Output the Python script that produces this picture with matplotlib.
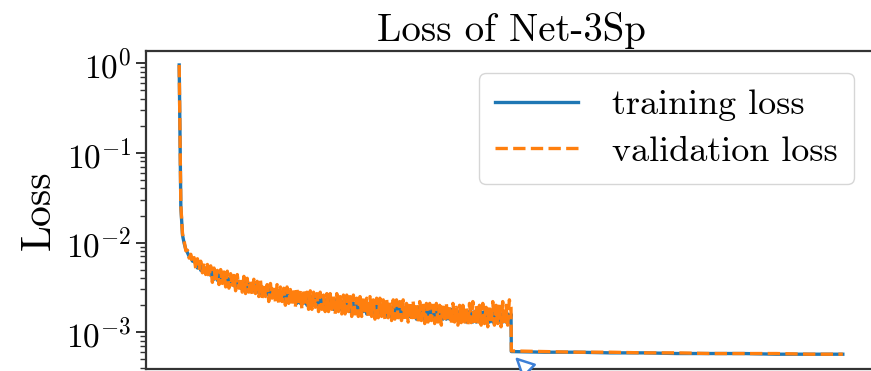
import matplotlib
matplotlib.use("Agg")
import matplotlib.pyplot as plt

plt.rcParams["font.family"] = ["cmr10", "DejaVu Serif"]
plt.rcParams["mathtext.fontset"] = "cm"
plt.rcParams["axes.unicode_minus"] = False
plt.rcParams["axes.formatter.use_mathtext"] = True

# Phase 1: epochs 0..1000, logged every 5 epochs
phase1_epochs = list(range(0, 1001, 5))
val_phase1 = [
    0.95, 0.026, 0.0125, 0.0104, 0.0081, 0.0082, 0.0067, 0.0074, 0.0060, 0.0068,
    0.0051, 0.0066, 0.0049, 0.0062, 0.0046, 0.0060, 0.0044, 0.0057, 0.0041, 0.0055,
    0.0036, 0.0052, 0.0037, 0.0049, 0.0034, 0.0050, 0.0035, 0.0047, 0.0032, 0.0048,
    0.0031, 0.0045, 0.0032, 0.0043, 0.0029, 0.0044, 0.0031, 0.0041, 0.0028, 0.0042,
    0.0027, 0.0040, 0.0028, 0.0038, 0.0026, 0.0039, 0.0027, 0.0037, 0.0025, 0.0038,
    0.0024, 0.0035, 0.0025, 0.0034, 0.0022, 0.0035, 0.0024, 0.0033, 0.0022, 0.0034,
    0.0021, 0.0032, 0.0022, 0.0031, 0.0020, 0.0032, 0.0021, 0.0030, 0.0020, 0.0031,
    0.0019, 0.0030, 0.0020, 0.0029, 0.0018, 0.0030, 0.0020, 0.0028, 0.0018, 0.0029,
    0.0018, 0.0028, 0.0019, 0.0027, 0.0017, 0.0028, 0.0018, 0.0026, 0.0017, 0.0027,
    0.0017, 0.0027, 0.0018, 0.0026, 0.0016, 0.0027, 0.0017, 0.0025, 0.0016, 0.0026,
    0.0016, 0.0026, 0.0017, 0.0025, 0.0015, 0.0026, 0.0016, 0.0024, 0.0015, 0.0025,
    0.0015, 0.0025, 0.0016, 0.0024, 0.00145, 0.0025, 0.0015, 0.0023, 0.0014, 0.0024,
    0.00145, 0.0024, 0.0015, 0.0023, 0.0014, 0.0024, 0.00145, 0.0022, 0.00135, 0.0023,
    0.0014, 0.0023, 0.00145, 0.0022, 0.00135, 0.0023, 0.0014, 0.0021, 0.0013, 0.0022,
    0.00135, 0.0022, 0.0014, 0.0021, 0.0013, 0.0022, 0.00135, 0.0020, 0.00125, 0.0021,
    0.0013, 0.0021, 0.00135, 0.0020, 0.00125, 0.0021, 0.0013, 0.0020, 0.0012, 0.0021,
    0.0013, 0.0021, 0.00135, 0.0020, 0.00122, 0.0021, 0.0013, 0.0019, 0.0012, 0.0020,
    0.00128, 0.0020, 0.0013, 0.0019, 0.0012, 0.0021, 0.00128, 0.0022, 0.0012, 0.0020,
    0.00125, 0.0020, 0.0012, 0.0021, 0.00125, 0.0019, 0.00115, 0.0020, 0.00125, 0.0022,
    0.0012, 0.0020, 0.00125, 0.0021, 0.00115, 0.0022, 0.0012, 0.0020, 0.0012, 0.0023,
    0.0019,
]
train_phase1 = [
    0.95, 0.025, 0.0121, 0.0098, 0.0084, 0.0077, 0.0070, 0.0068, 0.0062, 0.0062,
    0.0058, 0.0052, 0.0058, 0.0049, 0.0054, 0.0047, 0.0052, 0.0045, 0.0050, 0.0043,
    0.0047, 0.0039, 0.0045, 0.0038, 0.0044, 0.0037, 0.0043, 0.0036, 0.0041, 0.0035,
    0.0040, 0.0034, 0.0039, 0.0033, 0.0038, 0.0032, 0.0037, 0.0031, 0.0036, 0.0030,
    0.0036, 0.0030, 0.0035, 0.0029, 0.0034, 0.0029, 0.0033, 0.0028, 0.0032, 0.0027,
    0.0032, 0.0026, 0.0031, 0.0026, 0.0030, 0.0025, 0.0030, 0.0025, 0.0029, 0.0024,
    0.0029, 0.0023, 0.0028, 0.0023, 0.0028, 0.0023, 0.0027, 0.0022, 0.0027, 0.0022,
    0.0027, 0.0021, 0.0026, 0.0021, 0.0026, 0.0021, 0.0025, 0.0020, 0.0025, 0.0020,
    0.0025, 0.0020, 0.0025, 0.0020, 0.0024, 0.0019, 0.0024, 0.0019, 0.0023, 0.0019,
    0.0024, 0.0019, 0.0023, 0.0018, 0.0023, 0.0018, 0.0022, 0.0018, 0.0022, 0.0017,
    0.0023, 0.0018, 0.0022, 0.0017, 0.0022, 0.0017, 0.0021, 0.0017, 0.0021, 0.0016,
    0.0022, 0.0017, 0.0021, 0.0016, 0.0021, 0.0016, 0.0020, 0.0016, 0.0020, 0.0016,
    0.0021, 0.0016, 0.0020, 0.0016, 0.0020, 0.0015, 0.0020, 0.0015, 0.0019, 0.0015,
    0.0020, 0.0016, 0.0019, 0.0015, 0.0019, 0.0015, 0.0019, 0.0015, 0.0019, 0.0015,
    0.0019, 0.0015, 0.0019, 0.0014, 0.0019, 0.0015, 0.0018, 0.0014, 0.0018, 0.0014,
    0.0019, 0.0014, 0.0018, 0.0014, 0.0018, 0.0014, 0.0018, 0.0014, 0.0018, 0.0014,
    0.0018, 0.0014, 0.0018, 0.0014, 0.0018, 0.0014, 0.0017, 0.0014, 0.0017, 0.0013,
    0.0018, 0.0014, 0.0017, 0.0013, 0.0017, 0.0014, 0.0017, 0.0013, 0.0017, 0.0013,
    0.0017, 0.0013, 0.0017, 0.0013, 0.0017, 0.0013, 0.0017, 0.0013, 0.0017, 0.0013,
    0.0017, 0.0013, 0.0017, 0.0013, 0.0016, 0.0013, 0.0017, 0.0013, 0.0016, 0.0013,
    0.0016,
]

# Phase 2: after the learning-rate drop
phase2_epochs = [1001, 1100, 1200, 1300, 1400, 1500, 1600, 1700, 1800, 1900, 2000]
val_phase2 = [0.00062, 0.00061, 0.00060, 0.00060, 0.00059, 0.00059,
              0.00058, 0.00058, 0.00058, 0.00057, 0.00057]
train_phase2 = [0.00061, 0.00060, 0.00060, 0.00059, 0.00059, 0.00058,
                0.00058, 0.00058, 0.00057, 0.00057, 0.00057]

epochs = phase1_epochs + phase2_epochs
train_loss = train_phase1 + train_phase2
val_loss = val_phase1 + val_phase2

W, H = 871, 371
fig = plt.figure(figsize=(W / 100, H / 100), dpi=100)
ax = fig.add_axes([146 / W, 2 / H, (876 - 146) / W, (369 - 51) / H])

ax.plot(epochs, train_loss, color="#1f77b4", lw=2.4, label="training loss")
ax.plot(epochs, val_loss, color="#ff7f0e", lw=2.4, ls="--", label="validation loss")

ax.set_yscale("log")
ax.set_ylim(3.9e-4, 1.36)
ax.set_xticks([])

for s in ax.spines.values():
    s.set_color("#333333")
    s.set_linewidth(1.6)
ax.tick_params(axis="y", which="major", length=7, width=1.4, labelsize=24, color="#333333")
ax.tick_params(axis="y", which="minor", length=4, width=1.0, color="#333333")

ax.set_title("Loss of Net-3Sp", fontsize=28, pad=7)
ax.set_ylabel("Loss", fontsize=30, labelpad=6)

leg = ax.legend(loc="upper right", fontsize=26, handlelength=2.3,
                borderaxespad=0.6, framealpha=0.8, borderpad=0.45,
                labelspacing=0.4, handletextpad=0.95)

# arrow pointing at the learning-rate drop
ax.annotate("", xy=(1012, 5.3e-4), xycoords="data",
            xytext=(570, -40), textcoords="figure pixels",
            arrowprops=dict(arrowstyle="-|>", color="#3c7fd6", fc="white",
                            lw=1.8, mutation_scale=30, shrinkA=0, shrinkB=0),
            annotation_clip=False)

fig.savefig("out.png", dpi=100)
